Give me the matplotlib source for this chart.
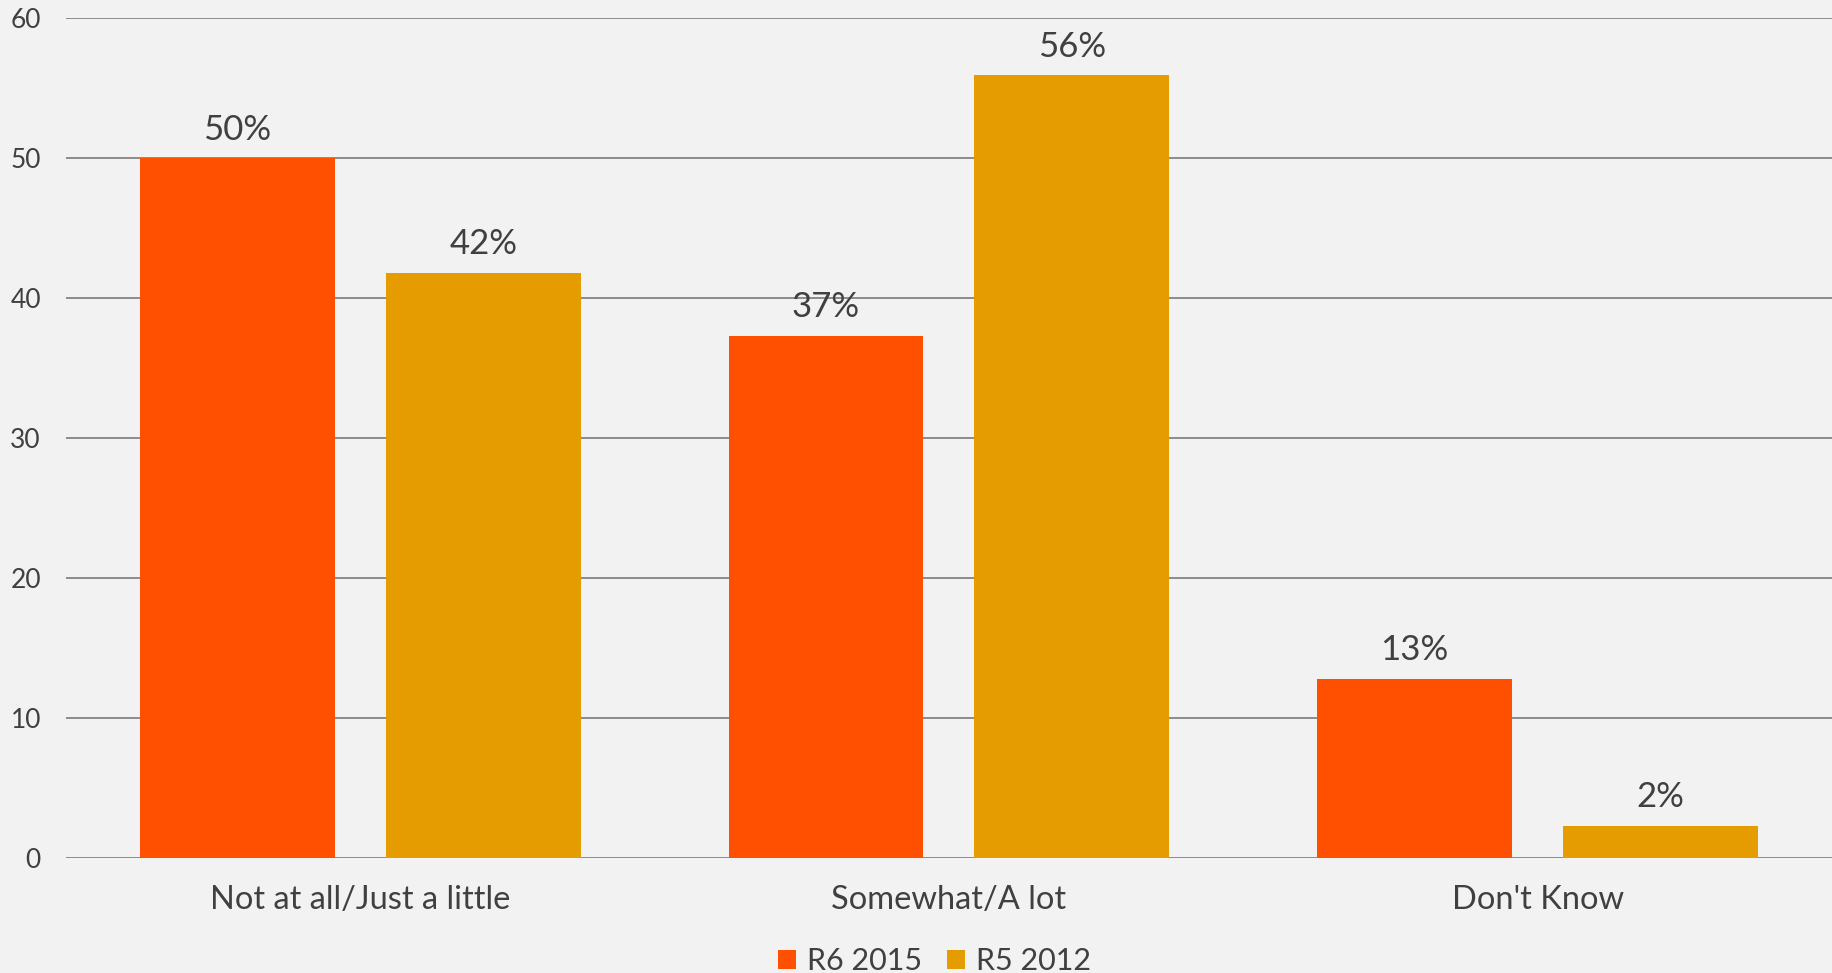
import numpy as np
import matplotlib
matplotlib.use('Agg')
import matplotlib.pyplot as plt

categories = ['Not at all/Just a little', 'Somewhat/A lot', "Don't Know"]
r6_2015 = [50.0, 37.3, 12.8]
r5_2012 = [41.8, 55.9, 2.3]
r6_labels = ['50%', '37%', '13%']
r5_labels = ['42%', '56%', '2%']
series_names = ['R6 2015', 'R5 2012']
yticks = [0, 10, 20, 30, 40, 50, 60]

plt.rcParams['font.family'] = ['Lato', 'DejaVu Sans']
txt = '#404040'
bg = '#f2f2f2'

fig = plt.figure(figsize=(18.32, 9.73), dpi=100, facecolor=bg)
ax = fig.add_axes([0.036, 0.118, 0.964, 0.8635])
ax.set_facecolor(bg)

x = np.arange(len(categories))
w = 0.331
off = w / 2 + 0.0433
b1 = ax.bar(x - off, r6_2015, w, color='#ff4f00', label=series_names[0], zorder=3)
b2 = ax.bar(x + off, r5_2012, w, color='#e59c00', label=series_names[1], zorder=3)

for bars, labs in ((b1, r6_labels), (b2, r5_labels)):
    for rect, lab in zip(bars, labs):
        ax.annotate(lab, (rect.get_x() + rect.get_width() / 2, rect.get_height()),
                    xytext=(0, 9), textcoords='offset points', ha='center', va='bottom',
                    fontsize=25, color=txt)

ax.set_xlim(-0.5, 2.5)
ax.set_ylim(0, 60)
ax.set_yticks(yticks)
ax.set_xticks(x)
ax.set_xticklabels(categories, fontsize=23.5, color=txt)
ax.tick_params(axis='y', length=0, pad=18, labelsize=19, labelcolor=txt)
ax.tick_params(axis='x', length=0, pad=19)
ax.grid(axis='y', color='#8c8c8c', linewidth=1.4, zorder=1)
for s in ax.spines.values():
    s.set_visible(False)

leg = fig.legend(loc='center', bbox_to_anchor=(0.51, 0.012), ncol=2, frameon=False,
                 fontsize=22, handlelength=0.6, handleheight=0.6, handletextpad=0.35,
                 columnspacing=0.8, labelcolor=txt)

fig.savefig('out.png', dpi=100, facecolor=bg)
